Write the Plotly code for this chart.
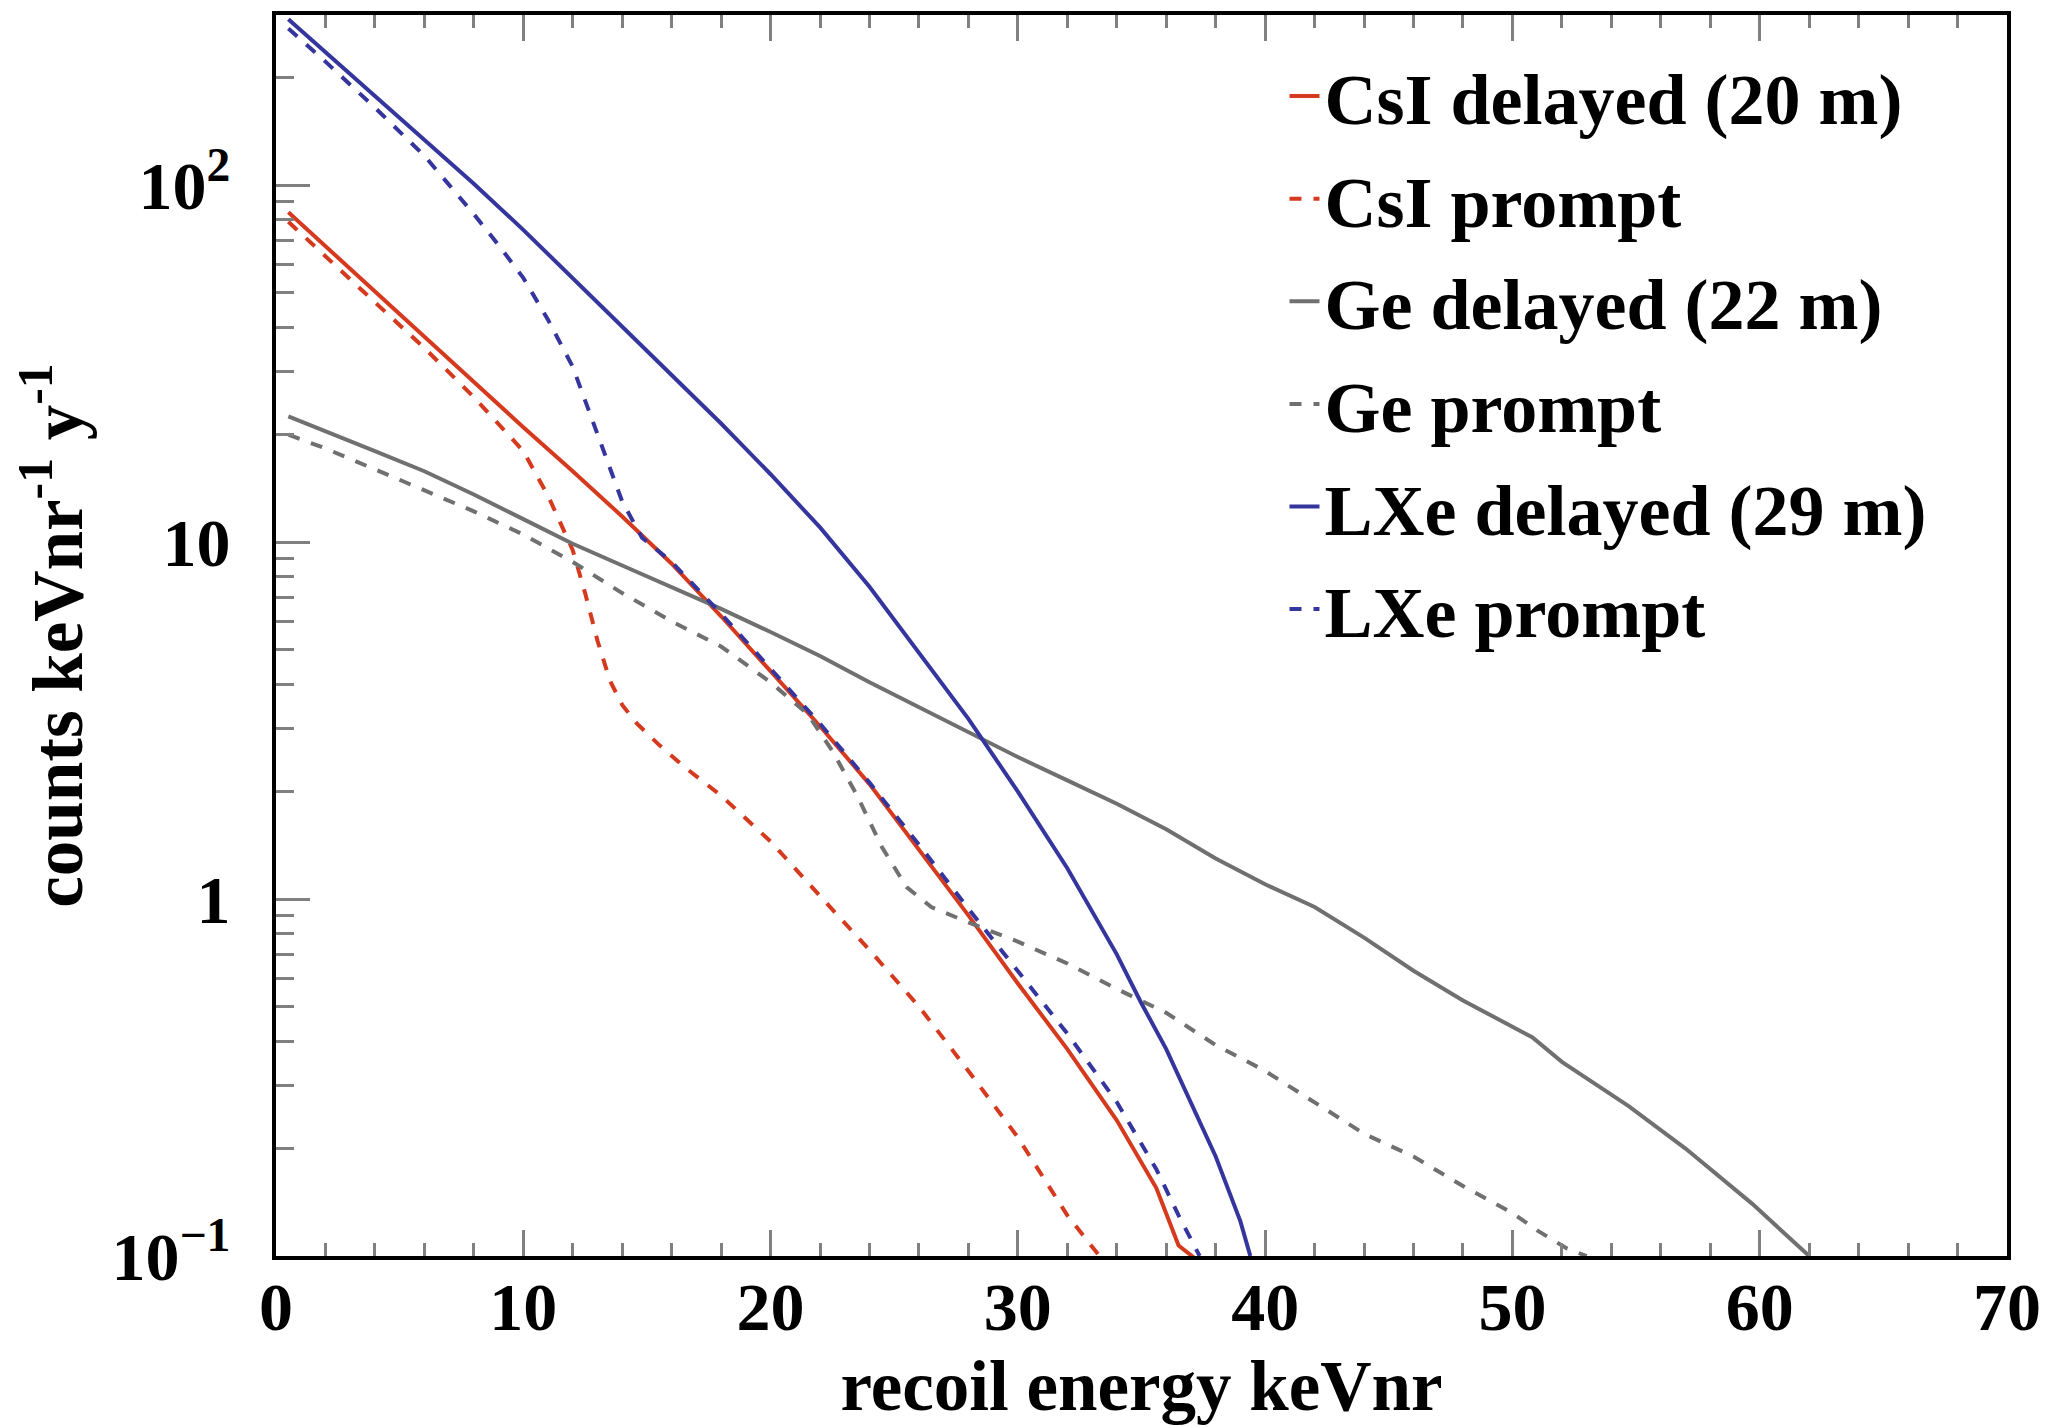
import plotly.graph_objects as go

# ---------------- data ----------------
csi_delayed_E = [0.5, 2, 4, 6, 8, 10, 12, 14, 16, 18, 20, 22, 24, 26, 28, 30, 32, 34, 35.6, 36.5, 37.2]
csi_delayed_V = [84, 67.5, 50.5, 37.5, 28, 21, 15.8, 11.8, 8.7, 6.2, 4.35, 3.05, 2.1, 1.38, 0.90, 0.58, 0.38, 0.24, 0.155, 0.107, 0.098]

csi_prompt_E = [0.5, 2, 4, 6, 8, 10, 11, 12, 12.5, 13, 13.5, 14, 14.6, 15.5, 16.5, 18, 20, 22, 24, 26, 28, 30, 32, 33.3]
csi_prompt_V = [79, 63, 47, 35, 25.5, 18, 13.5, 9.5, 7.2, 5.3, 4.1, 3.5, 3.1, 2.7, 2.35, 1.95, 1.45, 1.02, 0.72, 0.5, 0.33, 0.215, 0.13, 0.1]

ge_delayed_E = [0.5, 2, 4, 6, 8, 10, 12, 14, 16, 18, 20, 22, 24, 26, 28, 30, 32, 34, 36, 38, 40, 42, 44, 46, 48, 50.8, 52, 54.7, 57, 59.7, 62]
ge_delayed_V = [22.5, 20.5, 18, 15.8, 13.6, 11.6, 9.9, 8.6, 7.5, 6.5, 5.6, 4.8, 4.05, 3.45, 2.95, 2.5, 2.15, 1.85, 1.57, 1.3, 1.1, 0.95, 0.78, 0.63, 0.52, 0.41, 0.35, 0.263, 0.2, 0.14, 0.1]

ge_prompt_E = [0.5, 2, 4, 6, 8, 10, 12, 14, 16, 18, 20, 21.5, 22.5, 23.5, 24.5, 25.5, 26.5, 28, 30, 32, 34, 36, 38, 40, 42, 44, 46, 48, 50, 51, 52.2, 53]
ge_prompt_V = [20, 18.3, 16, 14, 12.2, 10.5, 8.8, 7.2, 6.0, 5.1, 4.05, 3.3, 2.6, 1.95, 1.4, 1.08, 0.95, 0.86, 0.76, 0.66, 0.56, 0.48, 0.39, 0.33, 0.27, 0.22, 0.19, 0.157, 0.132, 0.118, 0.105, 0.1]

lxe_delayed_E = [0.5, 2, 4, 6, 8, 10, 12, 13, 14, 16, 18, 20, 22, 24, 26, 28, 30, 32, 34, 35, 36, 37, 38, 39, 39.4]
lxe_delayed_V = [292, 236, 178, 134, 101, 75, 55, 47, 40, 29.5, 21.5, 15.5, 11.0, 7.5, 4.9, 3.2, 2.0, 1.22, 0.70, 0.51, 0.38, 0.27, 0.19, 0.125, 0.1]

lxe_prompt_E = [0.5, 2, 4, 6, 8, 9, 10, 11, 12, 13, 14, 14.8, 16, 18, 20, 22, 24, 26, 28, 30, 32, 34, 35.6, 36.5, 37.35]
lxe_prompt_V = [275, 222, 165, 121, 83, 68, 55, 42, 31, 20, 13, 10.3, 8.8, 6.3, 4.4, 3.1, 2.12, 1.42, 0.94, 0.63, 0.42, 0.27, 0.175, 0.13, 0.1]

series_names = ["CsI delayed (20 m)", "CsI prompt", "Ge delayed (22 m)", "Ge prompt",
                "LXe delayed (29 m)", "LXe prompt"]

y_tick_vals = [0.1, 1, 10, 100]
y_tick_text = ["10<sup>\u22121</sup>", "1", "10", "10<sup>2</sup>"]

# ---------------- styling ----------------
RED = "#d63a1e"
GREY = "#707070"
BLUE = "#35359e"
FONT = "Liberation Serif"

series = [
    (csi_delayed_E, csi_delayed_V, RED, "solid"),
    (csi_prompt_E, csi_prompt_V, RED, "dash"),
    (ge_delayed_E, ge_delayed_V, GREY, "solid"),
    (ge_prompt_E, ge_prompt_V, GREY, "dash"),
    (lxe_delayed_E, lxe_delayed_V, BLUE, "solid"),
    (lxe_prompt_E, lxe_prompt_V, BLUE, "dash"),
]

fig = go.Figure()
for i, (xs, ys, col, dash) in enumerate(series):
    fig.add_trace(go.Scatter(
        x=xs, y=ys, mode="lines", name=series_names[i],
        legendgroup=f"g{i}",
        line=dict(color=col, width=4, dash=dash),
    ))

# page body has an 8px default margin, so the figure is shrunk by 8px
fig.update_layout(
    width=2042, height=1419,
    margin=dict(l=268, r=43, t=7, b=171),
    paper_bgcolor="white", plot_bgcolor="white",
    font=dict(family=FONT, size=68, color="black", weight="bold"),
    showlegend=True,
    legend=dict(
        x=0.5826, y=0.9776, xanchor="left", yanchor="top",
        bgcolor="rgba(0,0,0,0)", borderwidth=0,
        font=dict(family=FONT, size=72, color="black", weight="bold"),
        tracegroupgap=6,
    ),
)

fig.update_xaxes(
    range=[0, 70], dtick=10, tick0=0, automargin=False,
    showgrid=False, zeroline=False,
    showline=True, linewidth=4, linecolor="black", mirror="ticks",
    ticks="inside", ticklen=26, tickwidth=3, tickcolor="#808080",
    minor=dict(dtick=2, ticks="inside", ticklen=13, tickwidth=3, tickcolor="#808080", showgrid=False),
    tickfont=dict(family=FONT, size=68, color="black", weight="bold"),
    ticklabelstandoff=-12,
    title=dict(text="recoil energy keVnr", standoff=18,
               font=dict(family=FONT, size=71, color="black", weight="bold")),
)

fig.update_yaxes(
    type="log", range=[-1, 2.477], automargin=False,
    tickmode="array", tickvals=y_tick_vals, ticktext=y_tick_text,
    showgrid=False, zeroline=False,
    showline=True, linewidth=4, linecolor="black", mirror=True,
    ticks="inside", ticklen=34, tickwidth=3, tickcolor="#808080",
    minor=dict(dtick="D1", ticks="inside", ticklen=18, tickwidth=3, tickcolor="#808080", showgrid=False),
    tickfont=dict(family=FONT, size=68, color="black", weight="bold"),
    ticklabelstandoff=28,
    title=dict(text="counts keVnr<sup>-1</sup> y<sup>-1</sup>", standoff=13,
               font=dict(family=FONT, size=71, color="black", weight="bold")),
)

fig.write_html("out.html")
